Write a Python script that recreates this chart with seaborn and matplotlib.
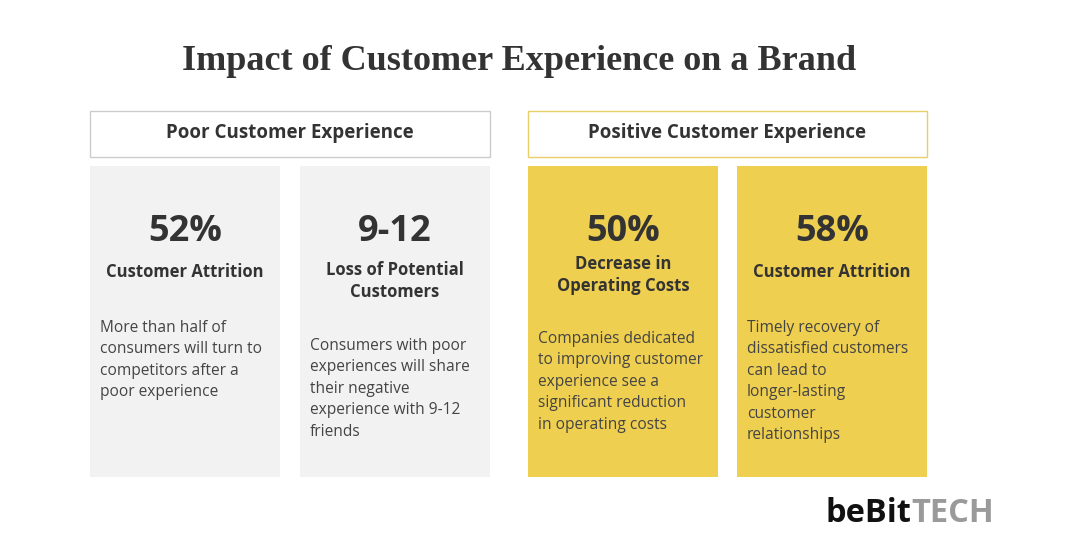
import matplotlib
matplotlib.use("Agg")
import matplotlib.pyplot as plt
import seaborn as sns
from matplotlib.patches import Rectangle

sns.set_theme(style="white")
plt.rcParams['font.family'] = ['Open Sans', 'DejaVu Sans']

title = "Impact of Customer Experience on a Brand"
groups = ["Poor Customer Experience", "Positive Customer Experience"]
stats = ["52%", "9-12", "50%", "58%"]
labels = ["Customer Attrition", "Loss of Potential\nCustomers", "Decrease in\nOperating Costs", "Customer Attrition"]
bodies = [
    "More than half of\nconsumers will turn to\ncompetitors after a\npoor experience",
    "Consumers with poor\nexperiences will share\ntheir negative\nexperience with 9-12\nfriends",
    "Companies dedicated\nto improving customer\nexperience see a\nsignificant reduction\nin operating costs",
    "Timely recovery of\ndissatisfied customers\ncan lead to\nlonger-lasting\ncustomer\nrelationships",
]

GRAY = "#f2f2f2"
YEL = "#efcf4f"
fig = plt.figure(figsize=(10.92, 5.55), dpi=100)
ax = fig.add_axes([0, 0, 1, 1])
ax.set_xlim(0, 1092); ax.set_ylim(555, 0); ax.axis("off")

ax.text(519, 62, title, ha="center", va="center", fontsize=26, fontweight="bold",
        family="Liberation Serif", color="#333333")

hdr = [(90, 490, "#cccccc", "white"), (528, 927, "#e8cf6a", "white")]
for (x0, x1, ec, fc), g in zip(hdr, groups):
    ax.add_patch(Rectangle((x0, 111), x1 - x0, 46, facecolor=fc, edgecolor=ec, lw=1))
    ax.text((x0 + x1) / 2, 133, g, ha="center", va="center", fontsize=13.5,
            fontweight="bold", color="#333333")

cards = [(90, GRAY), (300, GRAY), (528, YEL), (737, YEL)]
label_y = [272, 281, 275, 272]
body_y = [330, 348, 341, 330]
for (x0, c), s, l, b, ly, by in zip(cards, stats, labels, bodies, label_y, body_y):
    ax.add_patch(Rectangle((x0, 166), 190, 311, facecolor=c, edgecolor="none"))
    ax.text(x0 + 95, 232, s, ha="center", va="center", fontsize=26, fontweight="bold", color="#333333")
    ax.text(x0 + 95, ly, l, ha="center", va="center", fontsize=12, fontweight="bold",
            color="#333333", linespacing=1.25)
    ax.text(x0 + 10, by - 10, b, ha="left", va="top", fontsize=11.2, color="#444444", linespacing=1.45)

t = ax.text(826, 513, "beBit", ha="left", va="center", fontsize=23.5, fontweight="bold", color="#111111")
ax.annotate("TECH", xycoords=t, xy=(1, 0.5), va="center", ha="left", fontsize=23.5,
            fontweight="bold", color="#9a9a9a")

fig.savefig("out.png", dpi=100, facecolor="white")
